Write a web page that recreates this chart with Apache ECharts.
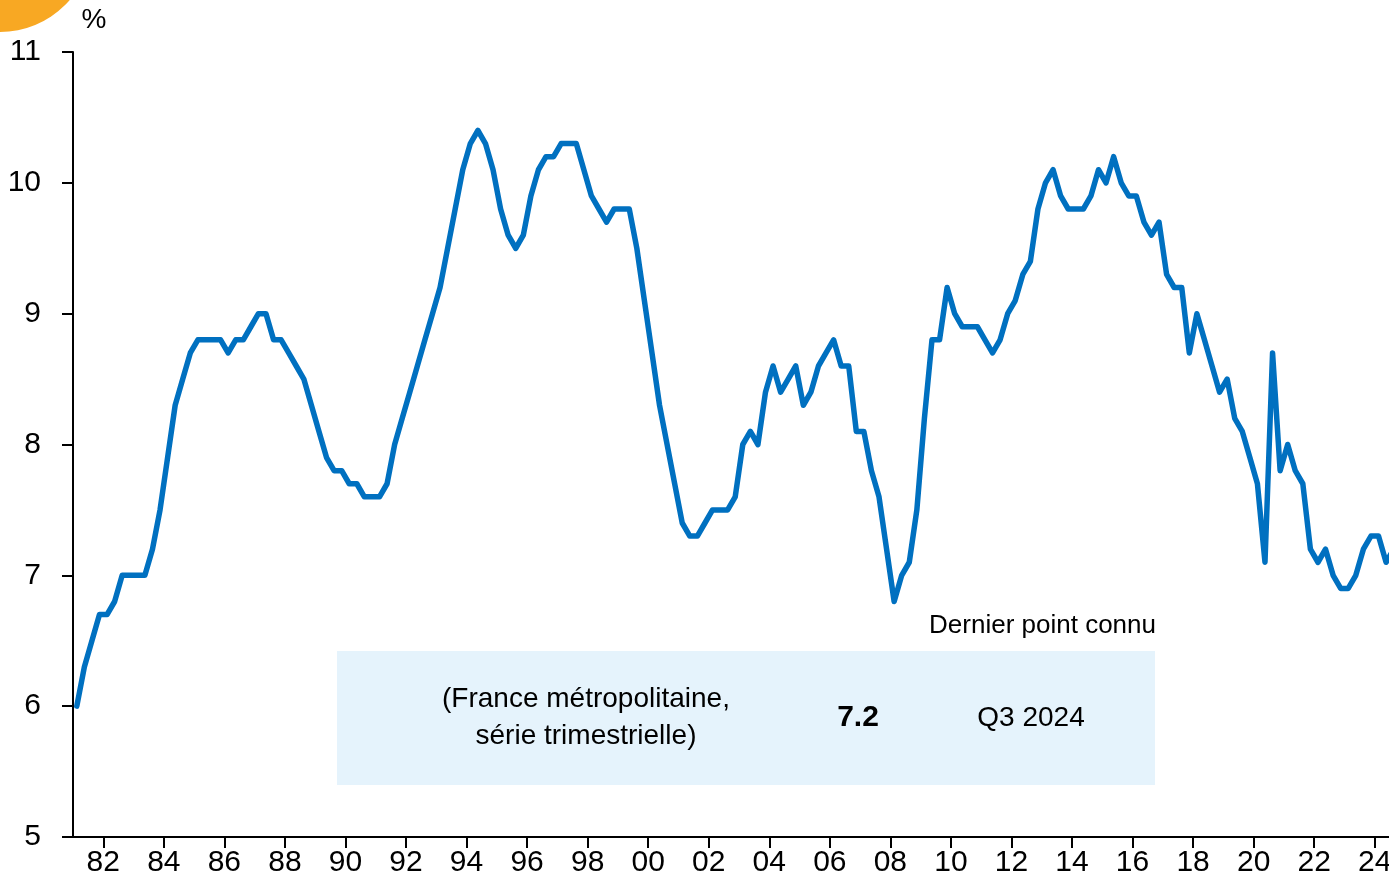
<!DOCTYPE html>
<html>
<head>
<meta charset="utf-8">
<title>Taux de chômage - France métropolitaine</title>
<script src="https://cdn.jsdelivr.net/npm/echarts@6/dist/echarts.min.js"></script>
<style>
    html, body { margin: 0; padding: 0; background: #fff; }
    #chart { width: 1389px; height: 882px; }
</style>
</head>
<body>
<div id="chart"></div>
<script>
// taux de chômage trimestriel, en %, à partir de 1981 T1 (une ligne = une année)
const startYear = 1981;
const rates = [
    6.0, 6.3, 6.5, 6.7,     // 1981
    6.7, 6.8, 7.0, 7.0,     // 1982
    7.0, 7.0, 7.2, 7.5,     // 1983
    7.9, 8.3, 8.5, 8.7,     // 1984
    8.8, 8.8, 8.8, 8.8,     // 1985
    8.7, 8.8, 8.8, 8.9,     // 1986
    9.0, 9.0, 8.8, 8.8,     // 1987
    8.7, 8.6, 8.5, 8.3,     // 1988
    8.1, 7.9, 7.8, 7.8,     // 1989
    7.7, 7.7, 7.6, 7.6,     // 1990
    7.6, 7.7, 8.0, 8.2,     // 1991
    8.4, 8.6, 8.8, 9.0,     // 1992
    9.2, 9.5, 9.8, 10.1,    // 1993
    10.3, 10.4, 10.3, 10.1, // 1994
    9.8, 9.6, 9.5, 9.6,     // 1995
    9.9, 10.1, 10.2, 10.2,  // 1996
    10.3, 10.3, 10.3, 10.1, // 1997
    9.9, 9.8, 9.7, 9.8,     // 1998
    9.8, 9.8, 9.5, 9.1,     // 1999
    8.7, 8.3, 8.0, 7.7,     // 2000
    7.4, 7.3, 7.3, 7.4,     // 2001
    7.5, 7.5, 7.5, 7.6,     // 2002
    8.0, 8.1, 8.0, 8.4,     // 2003
    8.6, 8.4, 8.5, 8.6,     // 2004
    8.3, 8.4, 8.6, 8.7,     // 2005
    8.8, 8.6, 8.6, 8.1,     // 2006
    8.1, 7.8, 7.6, 7.2,     // 2007
    6.8, 7.0, 7.1, 7.5,     // 2008
    8.2, 8.8, 8.8, 9.2,     // 2009
    9.0, 8.9, 8.9, 8.9,     // 2010
    8.8, 8.7, 8.8, 9.0,     // 2011
    9.1, 9.3, 9.4, 9.8,     // 2012
    10.0, 10.1, 9.9, 9.8,   // 2013
    9.8, 9.8, 9.9, 10.1,    // 2014
    10.0, 10.2, 10.0, 9.9,  // 2015
    9.9, 9.7, 9.6, 9.7,     // 2016
    9.3, 9.2, 9.2, 8.7,     // 2017
    9.0, 8.8, 8.6, 8.4,     // 2018
    8.5, 8.2, 8.1, 7.9,     // 2019
    7.7, 7.1, 8.7, 7.8,     // 2020
    8.0, 7.8, 7.7, 7.2,     // 2021
    7.1, 7.2, 7.0, 6.9,     // 2022
    6.9, 7.0, 7.2, 7.3,     // 2023
    7.3, 7.1, 7.2           // 2024
];

// graduations
const yearTicks = [1982, 1984, 1986, 1988, 1990, 1992, 1994, 1996, 1998, 2000, 2002,
    2004, 2006, 2008, 2010, 2012, 2014, 2016, 2018, 2020, 2022, 2024];
const yTicks = [5, 6, 7, 8, 9, 10, 11];

// encadré
const lastValue = '7.2';
const lastPeriod = 'Q3 2024';
const boxTitle = 'Dernier point connu';
const boxNote = '(France métropolitaine,\nsérie trimestrielle)';

const FONT = "'Liberation Sans', Arial, sans-serif";
// police plus étroite pour les graduations
const AXIS_FONT = "'Liberation Sans Narrow', 'Arial Narrow', 'Liberation Sans', sans-serif";

// point au milieu de chaque trimestre
const seriesData = rates.map(function (v, i) {
    return [startYear + i / 4 + 0.125, v];
});

const chart = echarts.init(document.getElementById('chart'), null, { renderer: 'canvas' });

const option = {
    animation: false,
    backgroundColor: '#ffffff',
    grid: {
        left: 73,
        top: 52,
        bottom: 45,
        right: -16,
        containLabel: false,
        outerBoundsMode: 'none'
    },
    xAxis: {
        type: 'value',
        min: 1981,
        max: 2025,
        axisLine: { show: true, onZero: false, lineStyle: { color: '#000', width: 2 } },
        axisTick: {
            show: true,
            customValues: yearTicks,
            length: 11,
            lineStyle: { color: '#000', width: 2 }
        },
        axisLabel: {
            customValues: yearTicks,
            margin: 11,
            fontFamily: AXIS_FONT,
            fontSize: 30,
            color: '#000',
            formatter: function (v) {
                return String(v % 100).padStart(2, '0');
            }
        },
        splitLine: { show: false }
    },
    yAxis: {
        type: 'value',
        min: yTicks[0],
        max: yTicks[yTicks.length - 1],
        interval: 1,
        axisLine: { show: true, lineStyle: { color: '#000', width: 2 } },
        axisTick: { show: true, length: 11, lineStyle: { color: '#000', width: 2 } },
        axisLabel: {
            margin: 32,
            fontFamily: AXIS_FONT,
            fontSize: 30,
            color: '#000'
        },
        splitLine: { show: false }
    },
    graphic: [
        {
            type: 'circle',
            z: 1,
            shape: { cx: 0, cy: -60, r: 92 },
            style: { fill: '#F8A823' }
        },
        {
            type: 'text',
            z: 10,
            style: {
                x: 94, y: 20,
                text: '%',
                font: '28px ' + AXIS_FONT,
                fill: '#000',
                align: 'center',
                verticalAlign: 'middle'
            }
        },
        {
            type: 'rect',
            z: 0,
            shape: { x: 337, y: 651, width: 818, height: 134 },
            style: { fill: '#E5F3FC' }
        },
        {
            type: 'text',
            z: 10,
            style: {
                x: 1156, y: 626,
                text: boxTitle,
                font: '26px ' + FONT,
                fill: '#000',
                align: 'right',
                verticalAlign: 'middle'
            }
        },
        {
            type: 'text',
            z: 10,
            style: {
                x: 586, y: 718,
                text: boxNote,
                font: '28px ' + FONT,
                lineHeight: 37,
                fill: '#000',
                align: 'center',
                verticalAlign: 'middle'
            }
        },
        {
            type: 'text',
            z: 10,
            style: {
                x: 858, y: 718,
                text: lastValue,
                font: 'bold 30px ' + FONT,
                fill: '#000',
                align: 'center',
                verticalAlign: 'middle'
            }
        },
        {
            type: 'text',
            z: 10,
            style: {
                x: 1031, y: 718,
                text: lastPeriod,
                font: '28px ' + FONT,
                fill: '#000',
                align: 'center',
                verticalAlign: 'middle'
            }
        }
    ],
    series: [
        {
            name: 'Taux de chômage',
            type: 'line',
            data: seriesData,
            showSymbol: false,
            clip: true,
            lineStyle: { color: '#0070C0', width: 5.5, join: 'round', cap: 'round' },
            itemStyle: { color: '#0070C0' },
            z: 5
        }
    ]
};

chart.setOption(option);

window.addEventListener('resize', function () {
    chart.resize();
});
</script>
</body>
</html>
